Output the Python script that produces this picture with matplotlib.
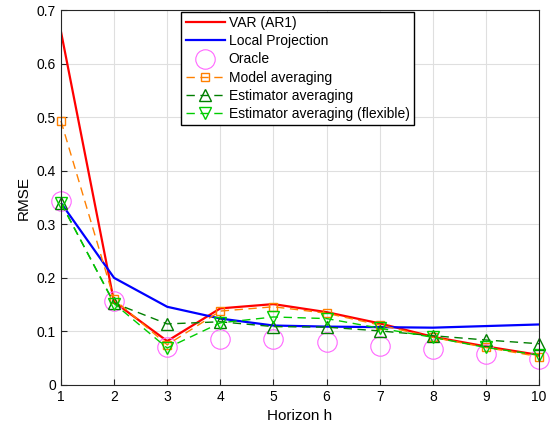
import numpy as np
import matplotlib
matplotlib.use('Agg')
import matplotlib.pyplot as plt

plt.rcParams['font.family'] = ['Liberation Sans', 'DejaVu Sans']

horizons = np.arange(1, 11)
var_ar1 = [0.660, 0.155, 0.082, 0.143, 0.151, 0.136, 0.115, 0.090, 0.072, 0.056]
local_proj = [0.340, 0.200, 0.146, 0.124, 0.111, 0.109, 0.108, 0.107, 0.110, 0.113]
oracle = [0.343, 0.157, 0.070, 0.086, 0.085, 0.081, 0.073, 0.067, 0.058, 0.048]
model_avg = [0.493, 0.160, 0.075, 0.138, 0.146, 0.134, 0.112, 0.089, 0.070, 0.053]
est_avg = [0.340, 0.153, 0.114, 0.118, 0.109, 0.108, 0.101, 0.092, 0.084, 0.077]
est_avg_flex = [0.340, 0.152, 0.069, 0.116, 0.127, 0.124, 0.106, 0.089, 0.070, 0.056]

fig = plt.figure(figsize=(5.54, 4.36), dpi=100)
ax = fig.add_axes([0.110, 0.117, 0.863, 0.860])

ax.plot(horizons, var_ar1, '-', color='#FF0000', lw=1.6, label='VAR (AR1)')
ax.plot(horizons, local_proj, '-', color='#0000FF', lw=1.6, label='Local Projection')
ax.plot(horizons, oracle, 'o', color='#FF66FF', mfc='none', ms=14, mew=0.8,
        clip_on=False, label='Oracle')
ax.plot(horizons, model_avg, '--s', color='#FF8000', mfc='none', ms=6, lw=1.0, mew=1.0,
        dashes=(6, 4), clip_on=False, label='Model averaging')
ax.plot(horizons, est_avg, '--^', color='#007F00', mfc='none', ms=9, lw=1.0, mew=1.0,
        dashes=(6, 4), clip_on=False, label='Estimator averaging')
ax.plot(horizons, est_avg_flex, '--v', color='#00CC00', mfc='none', ms=9, lw=1.0, mew=1.0,
        dashes=(6, 4), clip_on=False, label='Estimator averaging (flexible)')

ax.set_xlim(1, 10)
ax.set_ylim(0, 0.7)
ax.set_xticks(horizons)
ax.set_yticks(np.arange(0, 0.71, 0.1))
ax.set_yticklabels(['0', '0.1', '0.2', '0.3', '0.4', '0.5', '0.6', '0.7'])
ax.set_xlabel('Horizon h', fontsize=11)
ax.set_ylabel('RMSE', fontsize=11)
ax.tick_params(direction='in', labelsize=10, length=4, color='#262626')
ax.grid(True, color='#DFDFDF', lw=0.8)
ax.set_axisbelow(True)
for s in ax.spines.values():
    s.set_color('#262626')
    s.set_linewidth(0.8)

leg = ax.legend(loc='upper center', bbox_to_anchor=(0.495, 0.995), borderaxespad=0,
                fontsize=10, fancybox=False, framealpha=1, edgecolor='black',
                handlelength=2.8, borderpad=0.3, labelspacing=0.3, handletextpad=0.3)
leg.get_frame().set_linewidth(1.0)

fig.savefig('out.png', dpi=100)
